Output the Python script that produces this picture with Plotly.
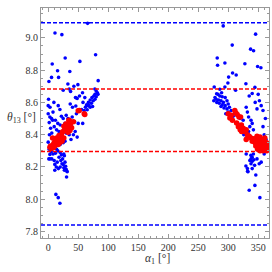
import plotly.graph_objects as go

# ---- data ----
blue_x = [65.7, 11.3, 22.8, 79, 28.3, 6.7, 52.8, 15.6, 36, 5.6, 17.3, 1.2, 83.3, 32.8, 49.5, 42.8, 25, 35, 37.3, 77.8,
          80, 82, 78, 83, 76, 80, 73, 78, 70, 75, 67, 72, 68, 64, 70, 62, 65, 60, 74, 58, 57.2, 61, 52.2, 45.5, 48.3, 46, 40.5, 36.7, 55.5, 63.9,
          0.6, 9.5, 16.7, 19.5, 0, 0, 2.8, 5.6, 1.7, 8, 3, 22, 16, 12, 7.3, 25, 20, 4, 10, 14, 2, 6, 18, 28,
          30, 33, 40, 44, 50, 57.5, 39, 48.3, 42, 45, 35, 30, 28, 25, 20, 38, 47,
          0, 3, 1.7, 2.8, 1, 5, 8, 12, 3, 6, 10, 11, 13.5, 11, 15, 18, 20, 22, 24, 26, 27, 21, 23, 25, 28, 29, 26, 27, 30, 31, 31.7, 30.6, 20, 17, 12.8, 16.7, 19.5, 14, 16,
          291.7, 345.7, 306.7, 337.3, 342.3, 281.7, 294.5, 327.8, 282.3, 349, 354.5, 307.3, 313.3, 300.7, 299.5, 329.5, 294.5, 276.7, 344.5, 286, 289, 312.3, 280.7,
          283, 286, 278, 290, 295, 280, 284, 288, 292, 298, 285, 290, 295, 300, 288, 293, 298, 302, 305, 300, 308.3, 296, 310, 303, 281, 276,
          335, 340, 350, 345, 352, 355, 348, 358, 330, 332, 334, 338, 340, 336, 342, 334, 330, 320, 325, 316, 318, 322, 326, 345, 352, 360, 363, 358, 362,
          342, 337.8, 340, 338, 343, 336, 340, 329.5, 338, 344, 332.3, 332, 340, 333, 348, 351.7, 355, 360, 335, 344.5, 352.8, 346, 330]
blue_y = [9.09, 9.03, 9.02, 8.895, 8.875, 8.838, 8.854, 8.796, 8.792, 8.755, 8.755, 8.73, 8.735, 8.714, 8.71, 8.70, 8.675, 8.683, 8.668, 8.683,
          8.67, 8.66, 8.65, 8.65, 8.64, 8.635, 8.63, 8.62, 8.615, 8.61, 8.60, 8.595, 8.58, 8.585, 8.57, 8.57, 8.555, 8.55, 8.575, 8.60, 8.66, 8.63, 8.64, 8.63, 8.625, 8.578, 8.57, 8.59, 8.556, 8.58,
          8.62, 8.60, 8.58, 8.556, 8.58, 8.53, 8.51, 8.50, 8.475, 8.54, 8.57, 8.514, 8.47, 8.49, 8.49, 8.50, 8.46, 8.44, 8.45, 8.43, 8.40, 8.41, 8.42, 8.47,
          8.52, 8.50, 8.51, 8.48, 8.47, 8.47, 8.45, 8.385, 8.40, 8.42, 8.40, 8.41, 8.36, 8.35, 8.34, 8.37, 8.53,
          8.354, 8.33, 8.31, 8.278, 8.25, 8.295, 8.28, 8.285, 8.25, 8.25, 8.24, 8.216, 8.20, 8.18, 8.23, 8.26, 8.29, 8.275, 8.25, 8.28, 8.27, 8.24, 8.22, 8.215, 8.23, 8.205, 8.195, 8.18, 8.185, 8.175, 8.17, 8.138, 8.20, 8.19, 8.03, 8.01, 7.975, 8.31, 8.30,
          9.074, 9.023, 8.955, 8.93, 8.92, 8.875, 8.844, 8.84, 8.83, 8.823, 8.815, 8.782, 8.77, 8.757, 8.72, 8.716, 8.696, 8.696, 8.693, 8.682, 8.66, 8.675, 8.654,
          8.65, 8.64, 8.63, 8.635, 8.63, 8.62, 8.615, 8.61, 8.60, 8.61, 8.595, 8.585, 8.58, 8.59, 8.575, 8.565, 8.56, 8.57, 8.55, 8.54, 8.514, 8.53, 8.53, 8.52, 8.60, 8.61,
          8.64, 8.655, 8.65, 8.60, 8.61, 8.58, 8.56, 8.55, 8.57, 8.54, 8.51, 8.49, 8.47, 8.45, 8.43, 8.42, 8.38, 8.50, 8.49, 8.47, 8.45, 8.43, 8.40, 8.37, 8.36, 8.40, 8.37, 8.45, 8.50,
          8.28, 8.272, 8.26, 8.25, 8.245, 8.24, 8.235, 8.206, 8.22, 8.21, 8.173, 8.19, 8.19, 8.17, 8.25, 8.22, 8.23, 8.28, 8.056, 8.086, 8.01, 8.15, 8.28]

red_x = [50, 61, 51.7, 60, 35, 34.5, 29.5, 26.2, 39, 36.2, 31, 24, 20.6, 26, 14, 7.3, 8.4, 2.8, 11, 16.7, 5.5, 32, 28, 22, 18, 30, 37, 33, 12, 4, 10, 42, 27, 23, 9, 19,
         300, 302.8, 311, 312.8, 305, 307, 315, 318, 320.6, 314, 317, 322, 325, 320, 328, 322.3, 330, 332, 335, 330, 338, 340, 342, 345, 348, 350, 352, 355, 357, 360, 362,
         358, 354, 350, 346, 356, 360, 363, 364, 353, 348, 361, 359, 344, 351, 356, 362, 347,
         349, 353, 357, 361, 365, 352, 358, 364, 355, 350, 360, 343, 366]
red_y = [8.548, 8.525, 8.55, 8.53, 8.488, 8.49, 8.467, 8.452, 8.443, 8.426, 8.43, 8.418, 8.37, 8.38, 8.38, 8.38, 8.34, 8.323, 8.33, 8.34, 8.315, 8.45, 8.44, 8.40, 8.395, 8.46, 8.47, 8.415, 8.36, 8.33, 8.35, 8.48, 8.425, 8.36, 8.32, 8.35,
         8.53, 8.504, 8.55, 8.535, 8.52, 8.49, 8.525, 8.51, 8.51, 8.473, 8.45, 8.46, 8.44, 8.43, 8.42, 8.42, 8.43, 8.40, 8.39, 8.37, 8.38, 8.36, 8.37, 8.35, 8.34, 8.36, 8.33, 8.35, 8.32, 8.34, 8.31,
         8.30, 8.31, 8.32, 8.33, 8.37, 8.36, 8.33, 8.30, 8.385, 8.39, 8.38, 8.355, 8.36, 8.345, 8.34, 8.345, 8.355,
         8.31, 8.30, 8.305, 8.32, 8.32, 8.35, 8.335, 8.35, 8.32, 8.37, 8.37, 8.375, 8.34]

blue_levels = [9.094, 7.841]
red_levels = [8.683, 8.296]

x_ticks = [0, 50, 100, 150, 200, 250, 300, 350]
y_ticks = [7.8, 8.0, 8.2, 8.4, 8.6, 8.8, 9.0]
y_tick_labels = ["7.8", "8.0", "8.2", "8.4", "8.6", "8.8", "9.0"]

FONT = "Liberation Serif"

fig = go.Figure()
fig.add_trace(go.Scatter(x=blue_x, y=blue_y, mode="markers",
                         marker=dict(color="#0000ff", size=3.6, line=dict(width=0)), showlegend=False))
fig.add_trace(go.Scatter(x=red_x, y=red_y, mode="markers",
                         marker=dict(color="#ff0000", size=5.5, line=dict(width=0)), showlegend=False))

for lv in blue_levels:
    fig.add_hline(y=lv, line=dict(color="#0000ff", width=1.5, dash="4px,2px"))
for lv in red_levels:
    fig.add_hline(y=lv, line=dict(color="#ff0000", width=1.5, dash="4px,2px"))

axis_common = dict(showgrid=False, zeroline=False, showline=True, linecolor="#999999", linewidth=1,
                   mirror="allticks", ticks="inside", ticklen=4, tickcolor="#999999", tickwidth=1,
                   automargin=False,
                   tickfont=dict(family=FONT, size=10, color="#333333"))
fig.update_xaxes(range=[-12, 368], tickvals=x_ticks,
                 minor=dict(dtick=10, ticks="inside", ticklen=2, tickcolor="#999999"), **axis_common)
fig.update_yaxes(range=[7.76, 9.185], tickvals=y_ticks, ticktext=y_tick_labels,
                 minor=dict(dtick=0.05, ticks="inside", ticklen=2, tickcolor="#999999"), **axis_common)

fig.add_annotation(text="<i>θ</i><sub>13</sub> [°]", xref="paper", yref="paper", x=-0.013, y=0.52,
                   xanchor="right", yanchor="middle", showarrow=False,
                   font=dict(family=FONT, size=11.5, color="#333333"))
fig.add_annotation(text="<i>α</i><sub>1</sub> [°]", xref="paper", yref="paper", x=0.51, y=-0.09,
                   xanchor="center", yanchor="middle", showarrow=False,
                   font=dict(family=FONT, size=11.5, color="#333333"))

fig.update_layout(width=272, height=272, margin=dict(l=41, r=3, t=8, b=34, autoexpand=False),
                  paper_bgcolor="white", plot_bgcolor="white")
fig.write_html("out.html", config={"displayModeBar": False},
               post_script="document.body.style.margin='0';document.body.style.overflow='hidden';")
